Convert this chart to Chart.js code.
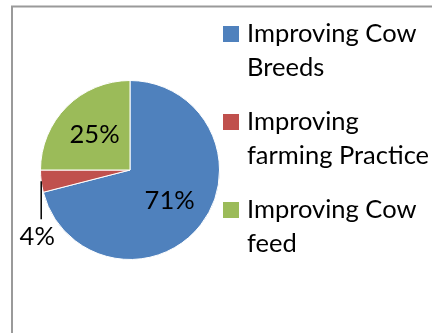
<!DOCTYPE html>
<html>
<head>
<meta charset="utf-8">
<script src="https://cdn.jsdelivr.net/npm/chart.js@4"></script>
<style>
  html, body { margin: 0; padding: 0; background: #fff; }
  #wrap { position: relative; width: 432px; height: 333px; }
</style>
</head>
<body>
<div id="wrap"><canvas id="pie" width="432" height="333"></canvas></div>
<script>
// Survey answers, share of respondents
const labels = [
  ["Improving Cow", "Breeds"],
  ["Improving", "farming Practice"],
  ["Improving Cow", "feed"],
];
const shares = [71, 4, 25];
const colors = ["#4F81BD", "#C0504D", "#9BBB59"];

const FONT = "Lato, 'Open Sans', sans-serif";

// gray frame round the plot, open on the right and bottom
const framePlugin = {
  id: "frame",
  beforeDraw(chart) {
    const ctx = chart.ctx;
    ctx.save();
    ctx.fillStyle = "#fff";
    ctx.fillRect(0, 0, chart.width, chart.height);
    ctx.strokeStyle = "#9a9a9a";
    ctx.lineWidth = 2;
    ctx.beginPath();
    ctx.moveTo(12, chart.height + 2);
    ctx.lineTo(12, 6.5);
    ctx.lineTo(chart.width + 2, 6.5);
    ctx.stroke();
    ctx.restore();
  },
};

// percent labels; the small slice gets a leader line and sits outside
const valueLabels = {
  id: "valueLabels",
  afterDatasetsDraw(chart) {
    const ctx = chart.ctx;
    const arcs = chart.getDatasetMeta(0).data;
    ctx.save();
    ctx.font = `25.5px ${FONT}`;
    ctx.fillStyle = "#000";
    ctx.textAlign = "center";
    ctx.textBaseline = "middle";
    arcs.forEach((arc, i) => {
      const mid = (arc.startAngle + arc.endAngle) / 2;
      const text = shares[i] + "%";
      if (shares[i] < 10) {
        const ex = arc.x + Math.cos(mid) * arc.outerRadius;
        const ey = arc.y + Math.sin(mid) * arc.outerRadius;
        ctx.strokeStyle = "#000";
        ctx.lineWidth = 1.5;
        ctx.beginPath();
        ctx.moveTo(ex, ey);
        ctx.lineTo(ex, ey + 38);
        ctx.stroke();
        ctx.fillText(text, ex - 4, ey + 56);
      } else {
        const r = arc.outerRadius * 0.56;
        ctx.fillText(text, arc.x + Math.cos(mid) * r, arc.y + Math.sin(mid) * r);
      }
    });
    ctx.restore();
  },
};

// legend on the right with wrapped entries
const sideLegend = {
  id: "sideLegend",
  afterDraw(chart) {
    const ctx = chart.ctx;
    const x0 = 223, tops = [26, 114, 202], lineH = 34;
    ctx.save();
    ctx.font = `25.5px ${FONT}`;
    ctx.textBaseline = "middle";
    ctx.textAlign = "left";
    labels.forEach((lines, i) => {
      ctx.fillStyle = colors[i];
      ctx.fillRect(x0, tops[i], 16, 16);
      ctx.fillStyle = "#000";
      lines.forEach((ln, j) => {
        ctx.fillText(ln, x0 + 24, tops[i] + 8 + j * lineH);
      });
    });
    ctx.restore();
  },
};

new Chart(document.getElementById("pie"), {
  type: "pie",
  data: {
    labels: labels.map((l) => l.join(" ")),
    datasets: [{
      data: shares,
      backgroundColor: colors,
      borderColor: "#fff",
      borderWidth: 1,
    }],
  },
  options: {
    responsive: false,
    animation: false,
    layout: { padding: { left: 40, right: 212, top: 80, bottom: 73 } },
    plugins: {
      legend: { display: false },
      tooltip: { enabled: false },
    },
  },
  plugins: [framePlugin, valueLabels, sideLegend],
});
</script>
</body>
</html>
